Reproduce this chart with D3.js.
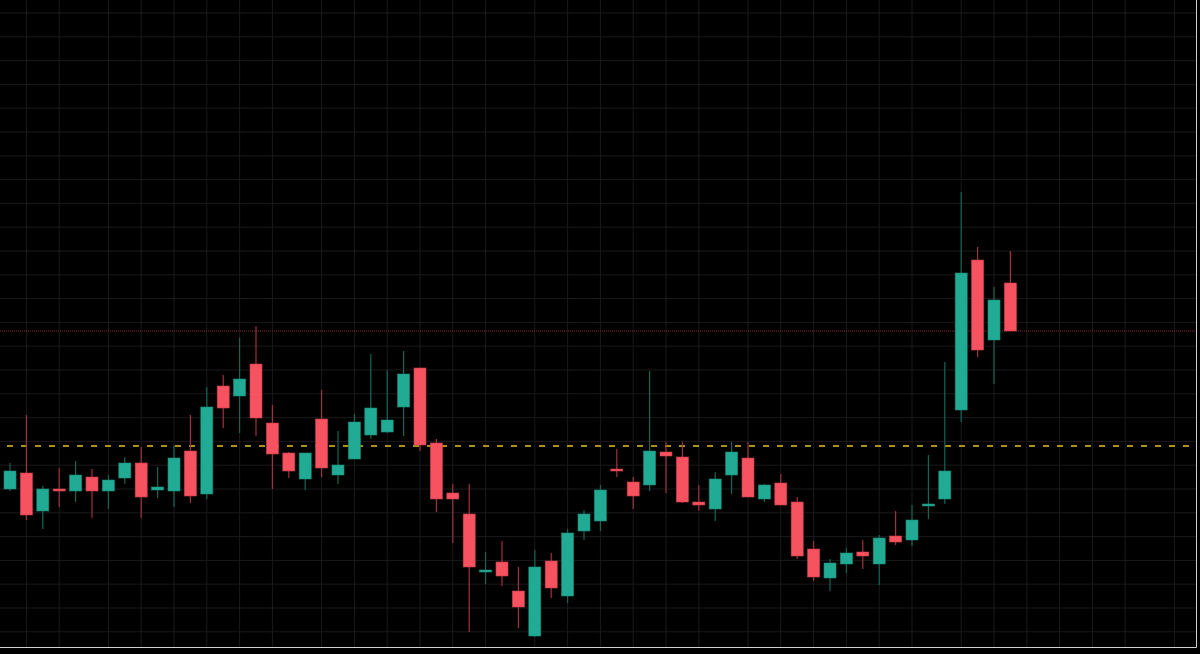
<!DOCTYPE html>
<html><head><meta charset="utf-8">
<script src="https://cdn.jsdelivr.net/npm/d3@7"></script>
<style>html,body{margin:0;padding:0;background:#000;}svg{display:block;}</style>
</head><body>
<svg id="c" width="1200" height="654"></svg>
<script>
// OHLC values (arbitrary price units)
const opens  = [21.1,22.7,18.9,21.1,20.9,22.3,20.9,22.2,23.7,21.0,20.9,24.9,20.6,31.4,30.4,33.6,27.7,24.7,22.1,28.1,22.5,24.1,26.5,26.8,29.3,33.2,25.7,20.7,18.6,12.9,13.8,10.9,6.4,13.9,10.4,16.9,17.9,23.1,21.8,21.5,24.8,24.3,19.8,19.1,22.5,24.2,20.1,21.7,19.8,15.1,12.2,13.6,14.8,13.6,16.4,16.0,19.5,20.1,29.0,44.0,36.0,41.7];
const closes = [22.9,18.5,21.1,21.0,22.5,20.9,22.0,23.7,20.3,21.3,24.2,20.4,29.3,29.2,32.1,28.2,24.6,22.9,24.7,23.2,23.5,27.8,29.2,28.0,32.6,25.5,20.1,20.1,13.3,13.0,12.4,9.3,13.3,11.2,16.7,18.6,21.0,23.0,20.4,24.9,24.4,19.8,19.5,22.1,24.8,20.3,21.5,19.5,14.4,12.3,13.7,14.7,14.4,16.2,15.8,18.0,19.6,22.9,42.7,35.0,40.0,36.9];
const highs  = [23.7,28.5,21.4,23.2,23.9,23.1,22.5,24.3,25.3,23.3,25.5,28.5,31.3,32.5,36.2,37.4,29.5,24.8,24.7,31.0,26.9,28.6,34.6,33.0,34.9,33.2,26.1,21.6,21.6,14.8,15.9,13.3,15.0,14.7,17.1,19.0,21.5,25.1,22.3,32.9,25.8,25.8,21.5,22.8,25.8,25.8,21.6,22.6,20.3,15.9,14.1,15.2,16.0,16.5,18.9,19.5,24.5,33.8,50.8,45.3,41.3,44.9];
const lows   = [20.9,18.0,17.1,19.3,19.8,18.2,19.1,21.6,18.2,20.2,19.3,19.7,20.1,27.2,26.7,26.4,21.1,22.2,21.0,22.3,21.6,24.1,26.1,26.7,26.4,24.9,18.8,15.7,6.8,11.6,11.4,7.2,6.3,10.2,9.7,16.0,16.9,22.3,19.1,20.9,20.7,19.7,18.9,17.9,20.6,20.3,19.8,19.5,14.1,11.9,10.9,12.7,13.1,11.5,15.5,15.4,18.1,19.6,27.8,34.3,31.6,36.9];
const refLevel = 25.4;   // yellow dashed level
const lastPrice = 36.9;  // red dotted last-price line
const gridCandles = [1,3,6,8,10,12,14,16,19,21,23,25,27,29,32,34,36,38,40,42,45,47,49,51,53,55,58,60,62,64,66,68,71];
const gridPrices = [68.7,66.32,63.94,61.56,59.18,56.8,54.42,52.04,49.66,47.28,44.9,42.52,40.14,37.76,35.38,33.0,30.62,28.24,25.86,23.48,21.1,18.72,16.34,13.96,11.58,9.2,6.82];

const svg = d3.select('#c');
const W = 1196, H = 647;
const idx = d3.range(opens.length);
const x = d3.scaleLinear().domain([0,1]).range([10,26.4]);
const y = d3.scaleLinear().domain([0,70]).range([700,0]);

svg.append('rect').attr('width',1200).attr('height',654).attr('fill','#000');
const g = svg.append('g');
g.selectAll('.vg').data(gridCandles).join('line')
  .attr('x1',d=>x(d)).attr('x2',d=>x(d)).attr('y1',0).attr('y2',H)
  .attr('stroke','#1a1a1e').attr('stroke-width',1);
g.selectAll('.hg').data(gridPrices).join('line')
  .attr('y1',d=>y(d)).attr('y2',d=>y(d)).attr('x1',0).attr('x2',W)
  .attr('stroke','#1a1a1e').attr('stroke-width',1);

// last price line
svg.append('line').attr('x1',0).attr('x2',W).attr('y1',y(lastPrice)).attr('y2',y(lastPrice))
  .attr('stroke','#8a2a30').attr('stroke-width',1).attr('stroke-dasharray','1,1');
// reference level
svg.append('line').attr('x1',7).attr('x2',1192).attr('y1',y(refLevel)).attr('y2',y(refLevel))
  .attr('stroke','#e3c21c').attr('stroke-width',1.5).attr('stroke-dasharray','6,8');

const up = i => closes[i] >= opens[i];
const bodyUp='#22ab94', bodyDn='#f7525f', wickUp='#136656', wickDn='#a23040';
svg.selectAll('.wick').data(idx).join('line')
  .attr('x1',i=>x(i)).attr('x2',i=>x(i))
  .attr('y1',i=>y(highs[i])).attr('y2',i=>y(lows[i]))
  .attr('stroke',i=>up(i)?wickUp:wickDn).attr('stroke-width',1.2);
svg.selectAll('.body').data(idx).join('rect')
  .attr('x',i=>x(i)-6).attr('width',12)
  .attr('y',i=>y(Math.max(opens[i],closes[i])))
  .attr('height',i=>Math.max(2,Math.abs(y(opens[i])-y(closes[i]))))
  .attr('fill',i=>up(i)?bodyUp:bodyDn)
  .attr('stroke',i=>up(i)?'#1b8a78':'#c9404c').attr('stroke-width',0.6);

// frame
svg.append('line').attr('x1',0).attr('x2',W+0.5).attr('y1',H+0.5).attr('y2',H+0.5).attr('stroke','#d0d0d0');
svg.append('line').attr('x1',W+0.5).attr('x2',W+0.5).attr('y1',0).attr('y2',H+0.5).attr('stroke','#d0d0d0');
</script>
</body></html>
